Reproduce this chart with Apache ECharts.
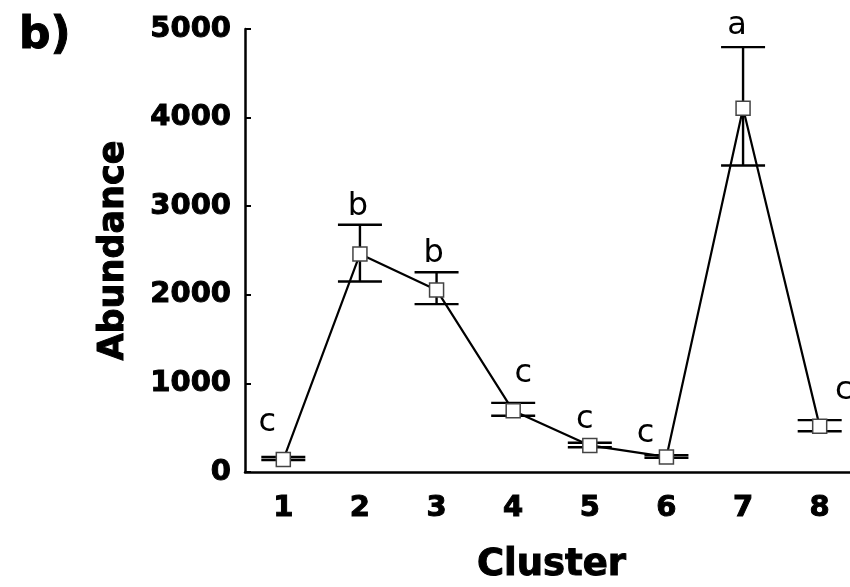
<!DOCTYPE html>
<html>
<head>
<meta charset="utf-8">
<script src="https://cdn.jsdelivr.net/npm/echarts@6/dist/echarts.min.js"></script>
<style>
  html, body { margin: 0; padding: 0; background: #fff; }
  #chart { width: 850px; height: 587px; }
</style>
</head>
<body>
<div id="chart"></div>
<script>
// cluster abundance, mean with error bars
var clusters = ['1', '2', '3', '4', '5', '6', '7', '8'];
var means = [140, 2460, 2055, 690, 300, 170, 4105, 515];
var upper = [170, 2790, 2255, 780, 330, 190, 4795, 585];
var lower = [135, 2150, 1895, 635, 280, 160, 3460, 460];
var letters = ['c', 'b', 'b', 'c', 'c', 'c', 'a', 'c'];
var yTicks = [0, 1000, 2000, 3000, 4000, 5000];

// pixel offsets of the significance letters from each point
var letterOffsets = [[-16, -21], [-2, -31], [-3, -20], [10, -21], [-5, -10], [-21, -7], [-6, -67], [24, -20]];

var myChart = echarts.init(document.getElementById('chart'));

var errData = clusters.map(function (c, i) { return [i, lower[i], upper[i]]; });
var letterData = clusters.map(function (c, i) { return [i, means[i]]; });

var boldText = {
    fontFamily: 'DejaVu Sans',
    fontWeight: 'bold',
    color: '#000',
    textBorderColor: '#000',
    textBorderWidth: 1
};

myChart.setOption({
    animation: false,
    title: {
        text: 'b)',
        left: 14,
        top: 10,
        textStyle: Object.assign({}, boldText, { fontSize: 44 })
    },
    grid: { left: 245, width: 613, top: 29, bottom: 115, outerBoundsMode: 'none', containLabel: false },
    xAxis: {
        type: 'category',
        data: clusters,
        boundaryGap: true,
        name: 'Cluster',
        nameLocation: 'middle',
        nameGap: 75,
        nameTextStyle: Object.assign({}, boldText, { fontSize: 37 }),
        axisLine: { lineStyle: { color: '#000', width: 2.5 } },
        axisTick: { alignWithLabel: true, inside: true, length: 6, lineStyle: { color: '#000', width: 2 } },
        axisLabel: Object.assign({ margin: 22, fontSize: 29 }, boldText),
        splitLine: { show: false }
    },
    yAxis: {
        type: 'value',
        min: yTicks[0],
        max: yTicks[yTicks.length - 1],
        interval: 1000,
        name: 'Abundance',
        nameLocation: 'middle',
        nameGap: 114,
        nameRotate: 90,
        nameTextStyle: Object.assign({}, boldText, { fontSize: 35 }),
        axisLine: { show: true, lineStyle: { color: '#000', width: 2.5 } },
        axisTick: { show: true, inside: true, length: 6, lineStyle: { color: '#000', width: 2 } },
        axisLabel: Object.assign({
            margin: 14,
            fontSize: 29,
            formatter: function (v) { return String(v); }
        }, boldText),
        splitLine: { show: false }
    },
    series: [
        {
            type: 'custom',
            name: 'error',
            z: 1,
            data: errData,
            renderItem: function (params, api) {
                var x = api.value(0);
                var lo = api.coord([x, api.value(1)]);
                var hi = api.coord([x, api.value(2)]);
                var hw = 22;
                var st = { stroke: '#000', lineWidth: 2.4 };
                return {
                    type: 'group',
                    children: [
                        { type: 'line', shape: { x1: lo[0], y1: lo[1], x2: hi[0], y2: hi[1] }, style: st },
                        { type: 'line', shape: { x1: hi[0] - hw, y1: hi[1], x2: hi[0] + hw, y2: hi[1] }, style: st },
                        { type: 'line', shape: { x1: lo[0] - hw, y1: lo[1], x2: lo[0] + hw, y2: lo[1] }, style: st }
                    ]
                };
            }
        },
        {
            type: 'line',
            name: 'mean',
            z: 3,
            data: means,
            symbol: 'rect',
            symbolSize: 14,
            showAllSymbol: true,
            lineStyle: { color: '#000', width: 2.2 },
            itemStyle: { color: '#fff', borderColor: '#444', borderWidth: 1.5 }
        },
        {
            type: 'custom',
            name: 'letters',
            z: 4,
            data: letterData,
            renderItem: function (params, api) {
                var i = params.dataIndex;
                var p = api.coord([api.value(0), api.value(1)]);
                var off = letterOffsets[i];
                return {
                    type: 'text',
                    x: p[0] + off[0],
                    y: p[1] + off[1],
                    style: {
                        text: letters[i],
                        fill: '#000',
                        font: '32px "DejaVu Sans"',
                        textAlign: 'center',
                        textVerticalAlign: 'bottom'
                    }
                };
            }
        }
    ]
});
</script>
</body>
</html>
